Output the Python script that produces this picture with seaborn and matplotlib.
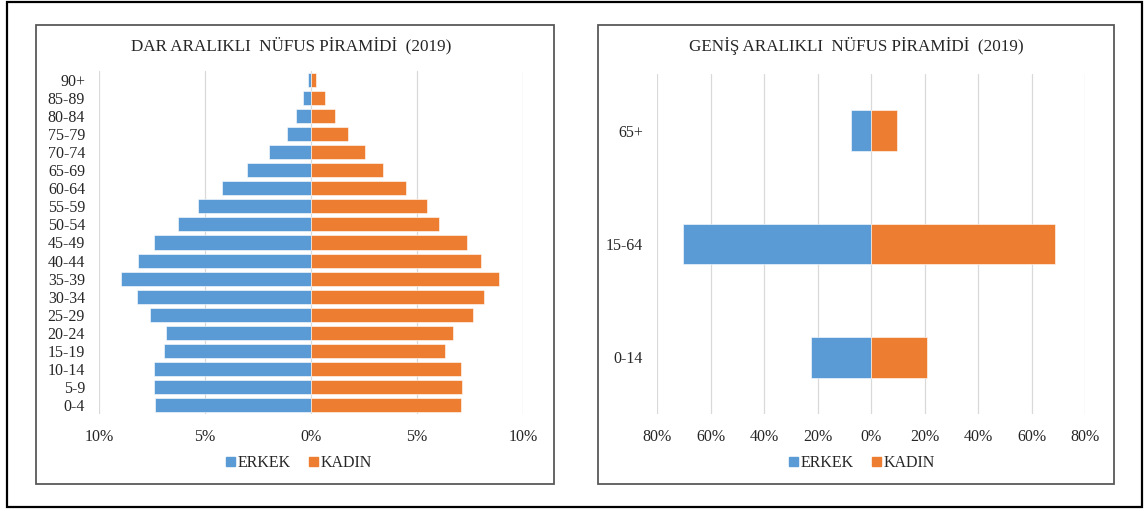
import numpy as np
import pandas as pd
import matplotlib.pyplot as plt
import matplotlib.patches as mpatches
from matplotlib.ticker import FixedLocator, FuncFormatter
import seaborn as sns

# dar araliklar (5 yillik) - yuzde
yas_dar = ['90+', '85-89', '80-84', '75-79', '70-74', '65-69', '60-64', '55-59', '50-54',
           '45-49', '40-44', '35-39', '30-34', '25-29', '20-24', '15-19', '10-14', '5-9', '0-4']
erkek_dar = [0.15, 0.37, 0.70, 1.15, 1.97, 3.01, 4.18, 5.33, 6.27,
             7.42, 8.18, 8.95, 8.22, 7.58, 6.83, 6.93, 7.42, 7.42, 7.38]
kadin_dar = [0.25, 0.64, 1.15, 1.74, 2.56, 3.39, 4.47, 5.46, 6.06,
             7.36, 8.01, 8.88, 8.16, 7.62, 6.72, 6.32, 7.07, 7.12, 7.07]

# genis araliklar
yas_genis = ['65+', '15-64', '0-14']
erkek_genis = [7.3, 70.1, 22.3]
kadin_genis = [9.9, 68.8, 20.9]

MAVI = '#5B9BD5'
TURUNCU = '#ED7D31'
YAZI = '#262626'

sns.set_theme(style='white')
plt.rcParams['font.family'] = ['Liberation Serif', 'DejaVu Serif']

W, H = 1148, 511
fig = plt.figure(figsize=(W / 100, H / 100), dpi=100)


def px_rect(x0, y0, x1, y1):
    # piksel koordinatlarini figur koordinatlarina cevir
    return [x0 / W, 1 - y1 / H, (x1 - x0) / W, (y1 - y0) / H]


def piramit(ax, yas, erkek, kadin, ticks, genislik, baslik, bas_x, leg_x):
    df = pd.DataFrame({
        'yas': yas * 2,
        'deger': [-v for v in erkek] + list(kadin),
        'cins': ['ERKEK'] * len(yas) + ['KADIN'] * len(yas),
    })
    sns.barplot(data=df, y='yas', x='deger', hue='cins', order=yas, orient='h',
                palette={'ERKEK': MAVI, 'KADIN': TURUNCU}, dodge=False,
                width=genislik, ax=ax, legend=False, saturation=1,
                edgecolor='white', linewidth=0.4)
    ax.set_xlim(ticks[0], ticks[-1])
    ax.xaxis.set_major_locator(FixedLocator(ticks))
    ax.xaxis.set_major_formatter(FuncFormatter(lambda v, p: f'{abs(v):g}%'))
    ax.grid(axis='x', color='#D9D9D9', linewidth=0.9)
    ax.set_axisbelow(True)
    for s in ax.spines.values():
        s.set_visible(False)
    ax.tick_params(axis='both', length=0, labelsize=11.5, colors=YAZI)
    ax.tick_params(axis='x', pad=11)
    ax.tick_params(axis='y', pad=10)
    ax.set_xlabel('')
    ax.set_ylabel('')
    fig.text(bas_x, 1 - 46 / H, baslik, ha='center', va='center', fontsize=12.3, color=YAZI)
    tut = [mpatches.Patch(color=MAVI, label='ERKEK'), mpatches.Patch(color=TURUNCU, label='KADIN')]
    ax.legend(handles=tut, loc='center', bbox_to_anchor=(leg_x, 1 - 463 / H),
              bbox_transform=fig.transFigure, ncol=2, frameon=False, fontsize=11.5,
              handlelength=0.55, handleheight=0.55, handletextpad=0.15, columnspacing=1.2,
              labelcolor=YAZI)


# cerceveler
fig.patches.append(mpatches.Rectangle((7 / W, 1 - 507 / H), (1142 - 7) / W, (507 - 2) / H,
                                      transform=fig.transFigure, fill=False,
                                      edgecolor='black', linewidth=1.6))
for x0, x1 in [(36, 554), (598, 1114)]:
    fig.patches.append(mpatches.Rectangle((x0 / W, 1 - 484 / H), (x1 - x0) / W, (484 - 25) / H,
                                          transform=fig.transFigure, fill=False,
                                          edgecolor='#595959', linewidth=1.3))

ax1 = fig.add_axes(px_rect(99, 71, 523, 414))
piramit(ax1, yas_dar, erkek_dar, kadin_dar, [-10, -5, 0, 5, 10], 0.78,
        'DAR ARALIKLI  NÜFUS PİRAMİDİ  (2019)', 291 / W, 299 / W)

ax2 = fig.add_axes(px_rect(657, 74, 1085, 414))
piramit(ax2, yas_genis, erkek_genis, kadin_genis, [-80, -60, -40, -20, 0, 20, 40, 60, 80], 0.36,
        'GENİŞ ARALIKLI  NÜFUS PİRAMİDİ  (2019)', 856 / W, 862 / W)

fig.savefig('out.png', dpi=100)
